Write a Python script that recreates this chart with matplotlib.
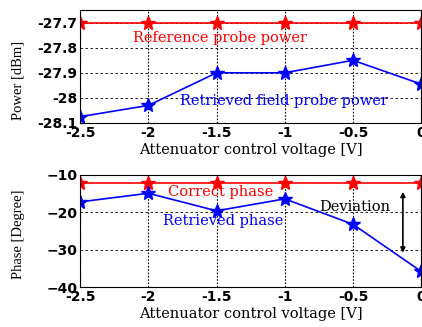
import numpy as np
import matplotlib.pyplot as plt

# attenuator control voltage
volt = [-2.5, -2, -1.5, -1, -0.5, 0]

# power [dBm]
ref_power = [-27.7, -27.7, -27.7, -27.7, -27.7, -27.7]
ret_power = [-28.075, -28.03, -27.9, -27.9, -27.85, -27.945]

# phase [deg]
cor_phase = [-12.2, -12.2, -12.2, -12.2, -12.2, -12.2]
ret_phase = [-17.2, -14.9, -19.6, -16.4, -23.2, -35.8]

serif = 'DejaVu Serif'
sans = 'DejaVu Sans'
tfs = 10.5

fig = plt.figure(figsize=(4.22, 3.27), dpi=100)
ax1 = fig.add_axes([0.19, 0.624, 0.808, 0.345])
ax2 = fig.add_axes([0.19, 0.122, 0.808, 0.343])

ax1.plot(volt, ref_power, 'r-', marker='*', ms=10, lw=1.2)
ax1.plot(volt, ret_power, 'b-', marker='*', ms=10, lw=1.2)
ax1.set_xlim(-2.5, 0)
ax1.set_ylim(-28.1, -27.65)
ax1.set_yticks([-28.1, -28, -27.9, -27.8, -27.7])
ax1.set_yticklabels(['-28.1', '-28', '-27.9', '-27.8', '-27.7'])
ax1.set_xticks(volt)
ax1.set_xticklabels(['-2.5', '-2', '-1.5', '-1', '-0.5', '0'])
ax1.set_ylabel('Power [dBm]', family='Liberation Serif', fontsize=10.5)
ax1.yaxis.set_label_coords(-0.163, 0.38)
ax1.set_xlabel('Attenuator control voltage [V]', family=serif, fontsize=tfs, labelpad=2)
ax1.text(-1.477, -27.76, 'Reference probe power', color='r', family=serif,
         fontsize=tfs, ha='center', va='center')
ax1.text(-1.005, -28.013, 'Retrieved field probe power', color='b', family=serif,
         fontsize=tfs, ha='center', va='center')

ax2.plot(volt, cor_phase, 'r-', marker='*', ms=10, lw=1.2)
ax2.plot(volt, ret_phase, 'b-', marker='*', ms=10, lw=1.2)
ax2.set_xlim(-2.5, 0)
ax2.set_ylim(-40, -10)
ax2.set_yticks([-40, -30, -20, -10])
ax2.set_xticks(volt)
ax2.set_xticklabels(['-2.5', '-2', '-1.5', '-1', '-0.5', '0'])
ax2.set_ylabel('Phase [Degree]', family='Liberation Serif', fontsize=10.5)
ax2.yaxis.set_label_coords(-0.163, 0.47)
ax2.set_xlabel('Attenuator control voltage [V]', family=serif, fontsize=tfs, labelpad=2)
ax2.text(-1.47, -14.6, 'Correct phase', color='r', family=serif,
         fontsize=tfs, ha='center', va='center')
ax2.text(-1.45, -22.2, 'Retrieved phase', color='b', family=serif,
         fontsize=tfs, ha='center', va='center')
ax2.text(-0.486, -18.5, 'Deviation', color='k', family=serif,
         fontsize=tfs, ha='center', va='center')
ax2.annotate('', xy=(-0.134, -30.8), xytext=(-0.134, -14.5),
             arrowprops=dict(arrowstyle='<|-|>', color='k', lw=1.2,
                             mutation_scale=7, shrinkA=0, shrinkB=0))

for ax in (ax1, ax2):
    ax.yaxis.grid(True, ls=(0, (3, 3)), color='k', lw=0.6)
    ax.xaxis.grid(True, ls=(0, (1.5, 1.5)), color='k', lw=0.8)
    ax.tick_params(direction='in', length=0, labelsize=10, pad=2)
    for lab in ax.get_xticklabels() + ax.get_yticklabels():
        lab.set_family(sans)
        lab.set_fontweight('bold')
    for s in ax.spines.values():
        s.set_linewidth(0.8)

fig.savefig('out.png', dpi=100)
